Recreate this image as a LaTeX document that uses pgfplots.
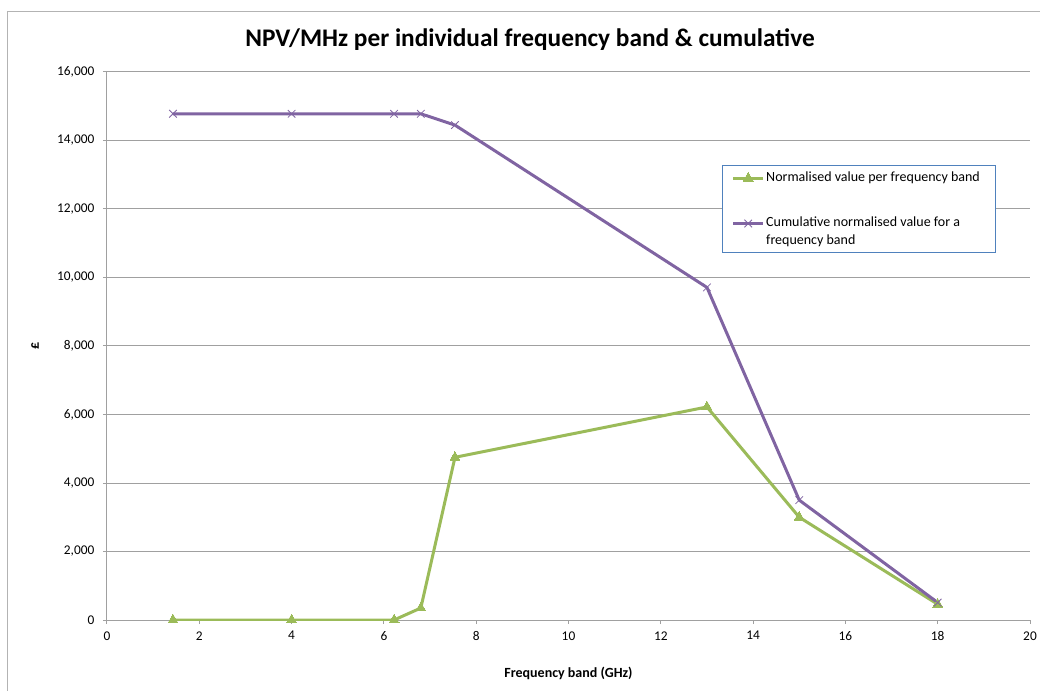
\documentclass[border=0pt]{standalone}
\usepackage{fontspec}
\setmainfont{Carlito}
\usepackage{pgfplots}
\pgfplotsset{compat=1.18}
\definecolor{ngreen}{HTML}{9BBB59}
\definecolor{npurple}{HTML}{8064A2}
\definecolor{lgblue}{HTML}{4F81BD}
\definecolor{gridgray}{HTML}{A0A0A0}
\begin{document}
\begin{tikzpicture}
\useasboundingbox (-80.25pt,-52.5pt) rectangle (699.75pt,465pt);
\draw[gridgray!80, line width=0.75pt] (-74.25pt,-70pt) rectangle (720pt,456pt);
\begin{axis}[
    scale only axis,
    width=692.25pt, height=411pt,
    xmin=0, xmax=20,
    ymin=0, ymax=16000,
    xtick={0,2,...,20},
    ytick={0,2000,...,16000},
    scaled y ticks=false,
    axis x line*=bottom,
    axis y line*=left,
    axis line style={gridgray, line width=0.75pt},
    tick style={gridgray, line width=0.75pt},
    tick align=outside,
    major tick length=3pt,
    ymajorgrids=true,
    grid style={gridgray, line width=0.75pt},
    tick label style={font=\fontsize{10}{12}\selectfont},
    yticklabel style={xshift=-3pt},
    xticklabel style={yshift=-2pt},
    /pgf/number format/.cd, assume math mode=true, 1000 sep={,}, fixed,
    /pgfplots/.cd,
    xlabel={\textbf{Frequency band (GHz)}},
    ylabel={\textbf{£}},
    label style={font=\fontsize{10.5}{12}\selectfont},
    xlabel style={at={(axis description cs:0.5,-0.0967)}, anchor=center},
    ylabel style={at={(axis description cs:-0.078,0.5)}, anchor=center},
    legend image code/.code={\draw[mark repeat=2,mark phase=2] plot coordinates {(0cm,2.6pt)(0.4cm,2.6pt)(0.8cm,2.6pt)};},
    legend style={at={(0.666,0.83)}, anchor=north west, draw=lgblue, line width=0.75pt,
        font=\fontsize{10.5}{12.75}\selectfont, row sep=0pt, inner xsep=7pt, inner ysep=3pt,
        nodes={inner sep=1pt}, cells={anchor=base west}},
]
\addplot[color=ngreen, line width=2.25pt, mark=triangle*, mark size=4.3pt,
    mark options={line width=0pt}]
coordinates {(1.43,0) (4.0,0) (6.22,0) (6.8,350) (7.54,4750) (13.0,6220) (15.0,3000) (18.0,460)};
\addlegendentry{\parbox[t]{164pt}{\rule{0pt}{8pt}Normalised value per frequency band}}
\addplot[color=npurple, line width=2.25pt, mark=x, mark size=4pt,
    mark options={line width=0.6pt}]
coordinates {(1.43,14780) (4.0,14780) (6.22,14780) (6.8,14780) (7.54,14450) (13.0,9710) (15.0,3500) (18.0,510)};
\addlegendentry{\rule{0pt}{30.5pt}Cumulative normalised value for a}
\addlegendimage{empty legend}
\addlegendentry{\rule{0pt}{10pt}frequency band}
\end{axis}
\node[font=\bfseries\fontsize{19}{22}\selectfont] at (317.25pt,435pt) {NPV/MHz per individual frequency band \& cumulative};
\end{tikzpicture}
\end{document}
